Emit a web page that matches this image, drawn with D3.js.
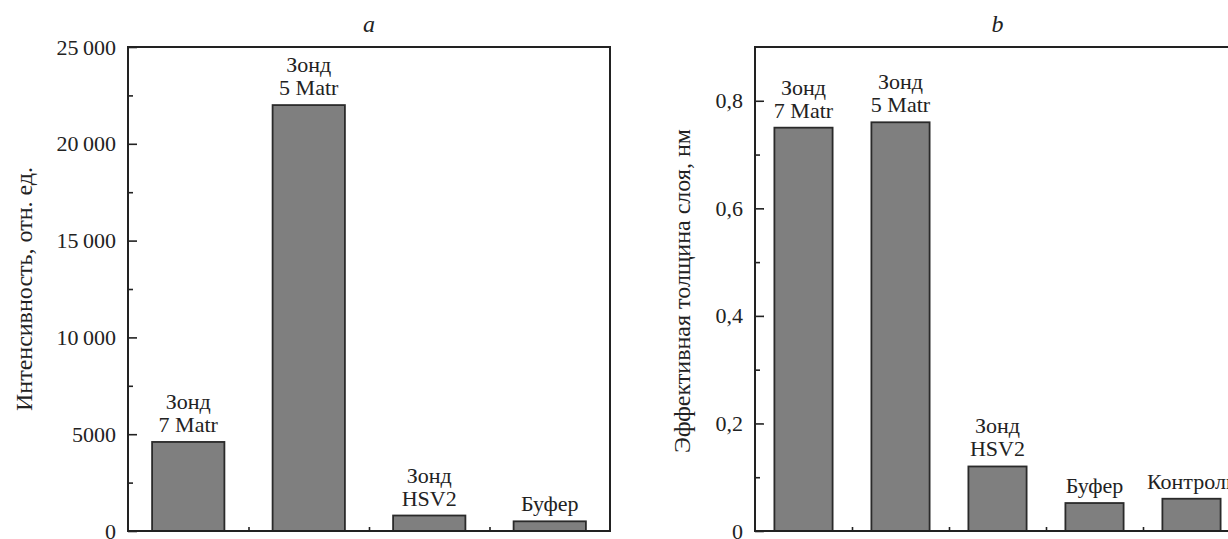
<!DOCTYPE html>
<html>
<head>
<meta charset="utf-8">
<script src="https://cdn.jsdelivr.net/npm/d3@7"></script>
<style>
  html, body { margin: 0; padding: 0; background: #fff; overflow: hidden; }
  svg text { font-family: "Liberation Serif", "DejaVu Serif", serif; }
  .tick line { stroke: #222; stroke-width: 1.6; }
  .tick text { fill: #222; }
</style>
</head>
<body>
<svg id="chart" width="1228" height="539"></svg>
<script>
'use strict';

// panel a: intensity
var labelsA = [['Зонд', '7 Matr'], ['Зонд', '5 Matr'], ['Зонд', 'HSV2'], ['Буфер']];
var valuesA = [4600, 22000, 800, 500];
var ticksA  = [0, 5000, 10000, 15000, 20000, 25000];
var tickTextA = ['0', '5000', '10\u2009000', '15\u2009000', '20\u2009000', '25\u2009000'];
var minorA  = [2500, 7500, 12500, 17500, 22500];

// panel b: effective layer thickness
var labelsB = [['Зонд', '7 Matr'], ['Зонд', '5 Matr'], ['Зонд', 'HSV2'], ['Буфер'], ['Контроль']];
var valuesB = [0.75, 0.76, 0.12, 0.052, 0.06];
var ticksB  = [0, 0.2, 0.4, 0.6, 0.8];
var tickTextB = ['0', '0,2', '0,4', '0,6', '0,8'];
var minorB  = [0.1, 0.3, 0.5, 0.7];

var svg = d3.select('#chart');

function drawPanel(o) {
  var g = svg.append('g');

  var x = d3.scaleBand()
    .domain(d3.range(o.values.length))
    .range([o.left, o.right])
    .paddingInner(0.4).paddingOuter(0.2);
  var y = d3.scaleLinear().domain(o.domain).range([o.bottom, o.top]);

  // bars
  g.selectAll('rect.bar').data(o.values).enter().append('rect')
    .attr('class', 'bar')
    .attr('x', function(d, i){ return x(i); })
    .attr('width', x.bandwidth())
    .attr('y', function(d){ return y(d); })
    .attr('height', function(d){ return y(0) - y(d); })
    .attr('fill', '#7f7f7f')
    .attr('stroke', '#2a2a2a')
    .attr('stroke-width', 1.8);

  // labels above bars
  o.labels.forEach(function(lines, i){
    var n = lines.length;
    lines.forEach(function(t, k){
      g.append('text')
        .attr('x', x(i) + x.bandwidth() / 2)
        .attr('y', y(o.values[i]) - 10 - (n - 1 - k) * 23)
        .attr('text-anchor', 'middle')
        .attr('font-size', 22)
        .attr('fill', '#222')
        .text(t);
    });
  });

  // y axis, ticks pointing inward
  var yAxis = g.append('g')
    .attr('transform', 'translate(' + o.left + ',0)')
    .call(d3.axisLeft(y).tickValues(o.ticks).tickSize(-9).tickPadding(12)
      .tickFormat(function(d, i){ return o.tickText[i]; }));
  yAxis.attr('font-family', null).attr('font-size', null);
  yAxis.selectAll('text').attr('font-size', 22);
  yAxis.select('.domain').remove();

  var yMinor = g.append('g')
    .attr('transform', 'translate(' + o.left + ',0)')
    .call(d3.axisLeft(y).tickValues(o.minor).tickSize(-5).tickFormat(''));
  yMinor.select('.domain').remove();

  // bottom ticks between bars
  var xi = d3.scaleLinear().domain([0, o.values.length]).range([o.left, o.right]);
  var xAxis = g.append('g')
    .attr('transform', 'translate(0,' + o.bottom + ')')
    .call(d3.axisBottom(xi).tickValues(d3.range(1, o.values.length)).tickSize(-4).tickFormat(''));
  xAxis.select('.domain').remove();

  // frame
  g.append('rect')
    .attr('x', o.left).attr('y', o.top)
    .attr('width', o.right - o.left).attr('height', o.bottom - o.top)
    .attr('fill', 'none').attr('stroke', '#222').attr('stroke-width', 2);

  // panel letter
  g.append('text')
    .attr('x', (o.left + o.right) / 2).attr('y', 32)
    .attr('text-anchor', 'middle')
    .attr('font-style', 'italic').attr('font-size', 24)
    .attr('fill', '#222')
    .text(o.letter);

  // y title
  g.append('text')
    .attr('transform', 'translate(' + o.titleX + ',' + o.titleY + ') rotate(-90)')
    .attr('text-anchor', 'middle')
    .attr('font-size', 24)
    .attr('fill', '#222')
    .text(o.title);
}

drawPanel({
  values: valuesA, labels: labelsA, domain: [0, 25000],
  ticks: ticksA, tickText: tickTextA, minor: minorA,
  left: 128, right: 610, top: 47, bottom: 531,
  letter: 'a', title: 'Интенсивность, отн. ед.', titleX: 32, titleY: 289
});

drawPanel({
  values: valuesB, labels: labelsB, domain: [0, 0.9],
  ticks: ticksB, tickText: tickTextB, minor: minorB,
  left: 755, right: 1240, top: 47, bottom: 531,
  letter: 'b', title: 'Эффективная толщина слоя, нм', titleX: 690, titleY: 291
});
</script>
</body>
</html>
